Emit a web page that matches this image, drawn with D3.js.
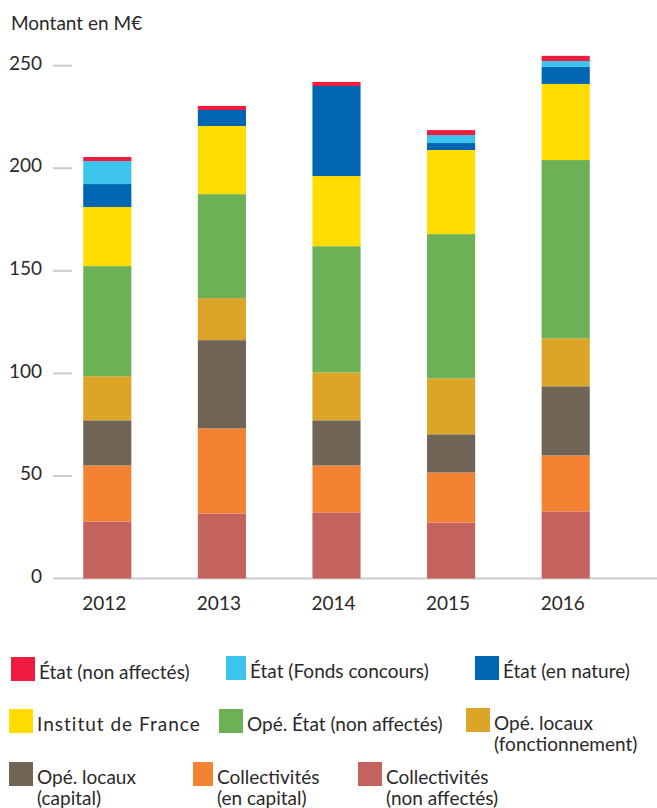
<!DOCTYPE html>
<html>
<head>
<meta charset="utf-8">
<script src="https://cdn.jsdelivr.net/npm/d3@7"></script>
<style>
  body { margin: 0; background: #fff; }
  svg { display: block; font-family: Lato, "Open Sans", sans-serif; }
</style>
</head>
<body>
<div id="chart"></div>
<script>
// Data (M€)
var years = ["2012", "2013", "2014", "2015", "2016"];
var yTicks = [0, 50, 100, 150, 200, 250];

var seriesNames = [
  "Collectivités (non affectés)",
  "Collectivités (en capital)",
  "Opé. locaux (capital)",
  "Opé. locaux (fonctionnement)",
  "Opé. État (non affectés)",
  "Institut de France",
  "État (en nature)",
  "État (Fonds concours)",
  "État (non affectés)"
];
var collectivitesNonAffectes = [27.8, 31.7, 32.2, 27.3, 32.7];
var collectivitesCapital     = [27.3, 41.5, 22.9, 24.4, 27.3];
var opeLocauxCapital         = [22.0, 43.0, 22.0, 18.6, 33.7];
var opeLocauxFonct           = [21.5, 20.5, 23.4, 27.3, 23.4];
var opeEtat                  = [53.7, 50.7, 61.5, 70.3, 86.9];
var institutFrance           = [28.8, 33.2, 34.2, 41.0, 37.1];
var etatNature               = [11.2, 7.8, 43.9, 3.4, 8.3];
var etatFonds                = [11.2, 0, 0, 3.9, 2.9];
var etatNonAffectes          = [2.0, 2.0, 2.0, 2.4, 2.5];

var seriesValues = [collectivitesNonAffectes, collectivitesCapital, opeLocauxCapital,
  opeLocauxFonct, opeEtat, institutFrance, etatNature, etatFonds, etatNonAffectes];

var colors = ["#c4625e", "#f48233", "#706456", "#dca528", "#6db157",
              "#ffdd00", "#0066b3", "#3dc4ec", "#ee1c3f"];

var width = 657, height = 808;
var textColor = "#2b2829";
var axisColor = "#cbcbcb";

var svg = d3.select("#chart")
  .append("svg")
    .attr("width", width)
    .attr("height", height);

// build table for the stack
var table = years.map(function(yr, i) {
  var row = {year: yr};
  seriesNames.forEach(function(s, k) { row[s] = seriesValues[k][i]; });
  return row;
});
var stacked = d3.stack().keys(seriesNames)(table);

// scales
var x = d3.scaleBand()
  .domain(years)
  .range([50, 623])
  .paddingInner(0.58)
  .paddingOuter(0.29);

var y = d3.scaleLinear()
  .domain([0, 250])
  .range([578.5, 65.7]);

// title
svg.append("text")
  .attr("x", 11)
  .attr("y", 30)
  .attr("fill", textColor)
  .style("font-size", "19px")
  .text("Montant en M€");

// y axis: short dashes + labels
var yAxis = svg.append("g").attr("class", "y-axis");
yAxis.selectAll("line.tick")
  .data(yTicks.filter(function(d) { return d > 0; }))
  .enter().append("line")
    .attr("class", "tick")
    .attr("x1", 53).attr("x2", 72)
    .attr("y1", function(d) { return y(d); })
    .attr("y2", function(d) { return y(d); })
    .attr("stroke", axisColor)
    .attr("stroke-width", 2);

yAxis.selectAll("text")
  .data(yTicks)
  .enter().append("text")
    .attr("x", 42)
    .attr("y", function(d) { return y(d); })
    .attr("dy", "0.22em")
    .attr("text-anchor", "end")
    .attr("fill", textColor)
    .style("font-size", "19px")
    .text(function(d) { return d; });

// baseline
svg.append("line")
  .attr("x1", 53).attr("x2", width)
  .attr("y1", y(0)).attr("y2", y(0))
  .attr("stroke", axisColor)
  .attr("stroke-width", 2);

// bars
svg.append("g")
  .selectAll("g")
  .data(stacked)
  .enter().append("g")
    .attr("fill", function(d, i) { return colors[i]; })
  .selectAll("rect")
  .data(function(d) { return d; })
  .enter().append("rect")
    .attr("x", function(d) { return x(d.data.year); })
    .attr("width", x.bandwidth())
    .attr("y", function(d) { return y(d[1]); })
    .attr("height", function(d) { return y(d[0]) - y(d[1]); });

// x labels
svg.append("g")
  .selectAll("text")
  .data(years)
  .enter().append("text")
    .attr("x", function(d) { return x(d) + x.bandwidth() / 2 - 3; })
    .attr("y", 610)
    .attr("text-anchor", "middle")
    .attr("fill", textColor)
    .style("font-size", "19px")
    .text(function(d) { return d; });

// legend (layout only: square position and text lines)
var legendLayout = [
  {k: 8, x: 11,  y: 657, w: 24, lines: ["État (non affectés)"]},
  {k: 7, x: 226, y: 656, w: 20, lines: ["État (Fonds concours)"]},
  {k: 6, x: 475, y: 656, w: 24, lines: ["État (en nature)"]},
  {k: 5, x: 9,   y: 709, w: 24, lines: ["Institut de France"], ls: 1},
  {k: 4, x: 219, y: 709, w: 24, lines: ["Opé. État (non affectés)"]},
  {k: 3, x: 466, y: 708, w: 24, lines: ["Opé. locaux", "(fonctionnement)"]},
  {k: 2, x: 9,   y: 762, w: 24, lines: ["Opé. locaux", "(capital)"]},
  {k: 1, x: 193, y: 762, w: 20, lines: ["Collectivités", "(en capital)"]},
  {k: 0, x: 358, y: 762, w: 24, lines: ["Collectivités", "(non affectés)"]}
];

var legend = svg.append("g").attr("class", "legend")
  .selectAll("g")
  .data(legendLayout)
  .enter().append("g");

legend.append("rect")
  .attr("x", function(d) { return d.x; })
  .attr("y", function(d) { return d.y; })
  .attr("width", function(d) { return d.w; })
  .attr("height", 24)
  .attr("fill", function(d) { return colors[d.k]; });

legend.append("text")
  .attr("fill", textColor)
  .style("font-size", "19px")
  .style("letter-spacing", function(d) { return d.ls ? d.ls + "px" : null; })
  .each(function(d) {
    var t = d3.select(this);
    d.lines.forEach(function(line, i) {
      t.append("tspan")
        .attr("x", d.x + d.w + 4)
        .attr("y", d.y + 22 + i * 21)
        .text(line);
    });
  });
</script>
</body>
</html>
